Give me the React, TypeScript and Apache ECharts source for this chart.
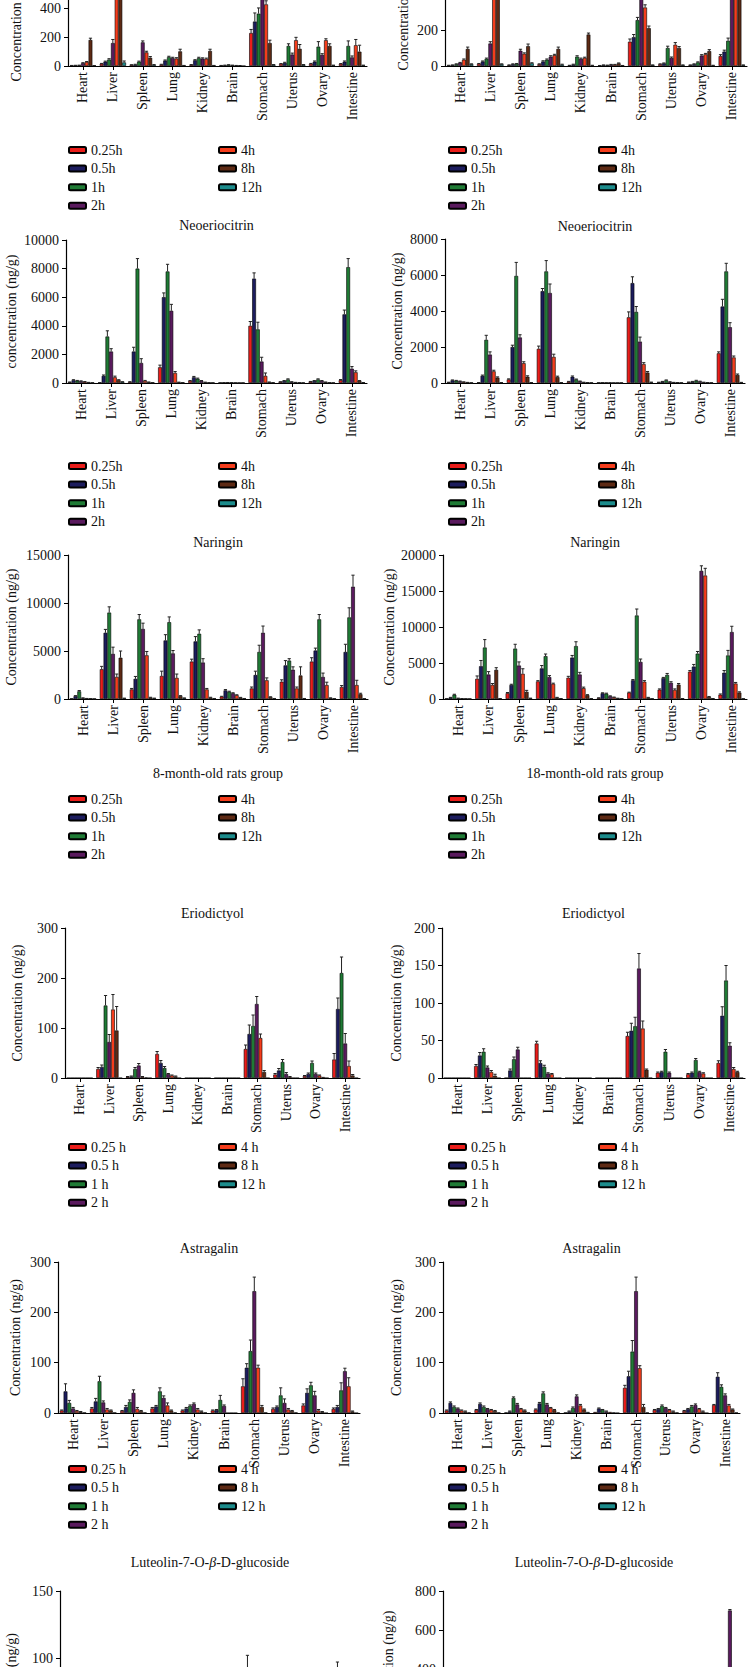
import React, { useEffect, useRef } from 'react';
import * as echarts from 'echarts';

const ORGANS = ['Heart', 'Liver', 'Spleen', 'Lung', 'Kidney', 'Brain', 'Stomach', 'Uterus', 'Ovary', 'Intestine'];
const TIMES = ['0.25h', '0.5h', '1h', '2h', '4h', '8h', '12h'];
const TIMES_SPACED = ['0.25 h', '0.5 h', '1 h', '2 h', '4 h', '8 h', '12 h'];
const COLORS = ['#ea1d1a', '#1c1c5e', '#1f7b35', '#5a1a5e', '#f53d1c', '#5e2a14', '#1c8c8c'];

const TITLES = ['', '', 'Neoeriocitrin', 'Neoeriocitrin', 'Naringin', 'Naringin', 'Eriodictyol', 'Eriodictyol', 'Astragalin', 'Astragalin', 'Luteolin-7-O-{i|β}-D-glucoside', 'Luteolin-7-O-{i|β}-D-glucoside'];
const Y_NAMES = ['Concentration (ng/g)', 'Concentration (ng/g)', 'concentration (ng/g)', 'Concentration (ng/g)', 'Concentration (ng/g)', 'Concentration (ng/g)', 'Concentration (ng/g)', 'Concentration (ng/g)', 'Concentration (ng/g)', 'Concentration (ng/g)', 'Concentration (ng/g)', 'Concentration (ng/g)'];
const Y_MAX = [600, 600, 10000, 8000, 15000, 20000, 300, 200, 300, 300, 150, 800];
const Y_STEP = [200, 200, 2000, 2000, 5000, 5000, 100, 50, 100, 100, 50, 200];
const GROUP_LABELS = ['8-month-old rats group', '18-month-old rats group'];

// rows: organs (Heart..Intestine), columns: 0.25h,0.5h,1h,2h,4h,8h,12h
const TOP_8M = [
  [3, 4, 5, 20, 28, 182, 2], [15, 30, 45, 160, 1000, 900, 25], [8, 10, 30, 165, 95, 58, 8], [10, 38, 62, 55, 52, 102, 3], [8, 40, 55, 52, 50, 105, 3],
  [3, 5, 8, 5, 3, 2, 1], [230, 310, 365, 470, 430, 160, 8], [15, 22, 140, 80, 180, 120, 8], [15, 30, 135, 78, 180, 140, 5], [15, 30, 140, 60, 145, 100, 5],
];
const TOP_8M_ERR = [
  [1, 1, 1, 3, 3, 12, 1], [3, 4, 6, 25, 0, 0, 10], [1, 2, 4, 10, 8, 8, 2], [2, 4, 6, 6, 6, 15, 1], [2, 4, 6, 5, 5, 12, 1],
  [1, 1, 1, 1, 1, 1, 0], [25, 60, 40, 30, 25, 20, 2], [2, 4, 15, 10, 20, 30, 2], [3, 5, 35, 8, 10, 15, 1], [2, 5, 35, 10, 40, 45, 1],
];
const TOP_18M = [
  [3, 5, 10, 18, 35, 95, 10], [12, 25, 40, 125, 800, 700, 10], [5, 10, 12, 85, 68, 110, 15], [10, 25, 35, 52, 60, 95, 8], [3, 8, 52, 40, 45, 175, 3],
  [2, 5, 4, 8, 8, 15, 2], [135, 160, 255, 420, 325, 210, 5], [10, 15, 100, 45, 118, 100, 5], [5, 10, 20, 58, 65, 83, 3], [55, 80, 140, 500, 520, 480, 5],
];
const TOP_18M_ERR = [
  [1, 1, 2, 2, 4, 10, 2], [2, 3, 4, 10, 0, 0, 2], [1, 2, 2, 8, 5, 12, 3], [2, 4, 4, 5, 5, 10, 2], [1, 2, 5, 4, 4, 8, 1],
  [1, 1, 1, 1, 1, 2, 1], [15, 15, 15, 0, 15, 12, 1], [2, 2, 10, 5, 12, 8, 1], [1, 2, 3, 5, 5, 8, 1], [8, 8, 15, 0, 0, 0, 1],
];
const NEO_8M = [
  [60, 200, 160, 130, 90, 40, 15], [20, 500, 3250, 2200, 400, 200, 80], [80, 2200, 8000, 1400, 150, 60, 20], [1100, 6000, 7800, 5050, 700, 50, 20], [150, 400, 300, 150, 50, 20, 10],
  [10, 20, 30, 20, 10, 5, 5], [4000, 7300, 3750, 1500, 500, 60, 20], [80, 150, 250, 80, 40, 20, 10], [100, 150, 250, 150, 60, 20, 10], [200, 4800, 8100, 1000, 750, 150, 30],
];
const NEO_8M_ERR = [
  [10, 30, 20, 20, 10, 5, 2], [5, 60, 400, 200, 80, 30, 10], [10, 300, 700, 300, 30, 10, 5], [150, 300, 500, 450, 100, 10, 5], [20, 60, 40, 20, 10, 5, 2],
  [2, 5, 5, 5, 2, 1, 1], [300, 400, 500, 300, 200, 10, 5], [10, 20, 40, 10, 5, 5, 2], [10, 20, 40, 20, 10, 5, 2], [40, 300, 600, 150, 100, 20, 5],
];
const NEO_18M = [
  [40, 150, 130, 100, 60, 30, 10], [20, 400, 2400, 1580, 650, 300, 20], [200, 2000, 5950, 2530, 1100, 350, 20], [1900, 5100, 6200, 5000, 1450, 330, 20], [80, 350, 200, 100, 40, 20, 10],
  [10, 15, 10, 10, 5, 5, 5], [3650, 5550, 3950, 2300, 1050, 580, 40], [40, 80, 150, 60, 30, 20, 10], [50, 80, 130, 90, 40, 20, 10], [1650, 4250, 6200, 3100, 1420, 450, 30],
];
const NEO_18M_ERR = [
  [5, 20, 15, 10, 5, 5, 2], [5, 40, 250, 150, 60, 40, 5], [30, 100, 750, 150, 80, 50, 5], [150, 150, 600, 500, 150, 50, 5], [10, 40, 20, 10, 5, 5, 2],
  [2, 2, 2, 2, 1, 1, 1], [300, 350, 300, 250, 80, 60, 10], [5, 10, 20, 10, 5, 5, 2], [5, 10, 20, 10, 5, 5, 2], [80, 400, 450, 250, 80, 50, 5],
];
const NAR_8M = [
  [20, 300, 800, 100, 50, 30, 10], [3100, 6900, 9000, 4700, 2300, 4300, 80], [1000, 2100, 8300, 7300, 4550, 150, 80], [2400, 6100, 8000, 4750, 2200, 300, 100], [3900, 6000, 6800, 3800, 1000, 150, 50],
  [250, 900, 750, 600, 400, 150, 50], [1100, 2500, 4900, 6900, 1950, 200, 50], [1800, 3500, 4000, 3050, 1100, 2450, 50], [3900, 5050, 8300, 2300, 1450, 100, 30], [1250, 4900, 8500, 11700, 1450, 500, 30],
];
const NAR_8M_ERR = [
  [5, 50, 80, 20, 10, 5, 2], [300, 350, 600, 700, 300, 700, 10], [100, 250, 500, 600, 400, 30, 10], [500, 600, 550, 300, 400, 50, 10], [250, 500, 400, 400, 100, 30, 5],
  [30, 80, 60, 50, 40, 20, 5], [150, 400, 700, 700, 250, 30, 5], [200, 500, 200, 300, 150, 900, 5], [400, 250, 500, 400, 300, 20, 5], [150, 800, 1000, 1200, 500, 100, 5],
];
const NAR_18M = [
  [30, 200, 600, 100, 50, 30, 10], [2800, 4550, 7150, 3400, 1950, 4050, 50], [800, 1950, 7000, 4650, 3500, 1000, 100], [2450, 4250, 5950, 3050, 2100, 200, 50], [2950, 5750, 7350, 3400, 1500, 550, 50],
  [150, 800, 750, 400, 250, 100, 30], [900, 2600, 11600, 5150, 2400, 200, 30], [1300, 2900, 3350, 2250, 1250, 2000, 50], [3800, 4500, 6300, 17800, 17150, 300, 50], [600, 3650, 6050, 9300, 2150, 900, 30],
];
const NAR_18M_ERR = [
  [5, 30, 60, 20, 10, 5, 2], [400, 800, 1100, 400, 200, 300, 10], [100, 100, 600, 500, 700, 200, 20], [100, 400, 300, 200, 100, 30, 10], [200, 300, 600, 300, 150, 50, 10],
  [20, 60, 60, 40, 20, 10, 5], [50, 100, 900, 400, 150, 30, 5], [100, 100, 200, 150, 150, 150, 10], [150, 300, 300, 700, 1000, 50, 10], [100, 300, 700, 800, 150, 100, 5],
];
const ERI_8M = [
  [0, 0, 0, 0, 0, 0, 0], [18, 22, 145, 72, 137, 95, 0], [2, 3, 18, 25, 2, 1, 0], [48, 30, 20, 8, 5, 3, 0], [0, 0, 0, 0, 0, 0, 0],
  [0, 0, 0, 0, 0, 0, 0], [58, 88, 104, 148, 80, 12, 0], [7, 15, 32, 8, 2, 0, 0], [4, 8, 30, 8, 5, 2, 0], [37, 138, 210, 69, 24, 5, 0],
];
const ERI_8M_ERR = [
  [0, 0, 0, 0, 0, 0, 0], [3, 4, 20, 15, 30, 48, 0], [1, 1, 3, 4, 1, 0, 0], [5, 5, 3, 1, 1, 1, 0], [0, 0, 0, 0, 0, 0, 0],
  [0, 0, 0, 0, 0, 0, 0], [8, 18, 22, 15, 8, 3, 0], [2, 4, 5, 3, 1, 0, 0], [1, 2, 4, 2, 1, 0, 0], [12, 22, 32, 20, 10, 2, 0],
];
const ERI_18M = [
  [0, 0, 0, 0, 0, 0, 0], [16, 30, 35, 14, 8, 3, 0], [0, 10, 25, 38, 0, 0, 0], [46, 20, 15, 6, 5, 0, 0], [0, 0, 0, 0, 0, 0, 0],
  [0, 0, 0, 0, 0, 0, 0], [56, 63, 69, 146, 66, 11, 0], [7, 8, 35, 7, 0, 0, 0], [5, 7, 24, 8, 6, 0, 0], [20, 83, 130, 43, 12, 8, 0],
];
const ERI_18M_ERR = [
  [0, 0, 0, 0, 0, 0, 0], [2, 4, 4, 2, 2, 2, 0], [0, 2, 3, 3, 0, 0, 0], [3, 3, 2, 1, 1, 0, 0], [0, 0, 0, 0, 0, 0, 0],
  [0, 0, 0, 0, 0, 0, 0], [5, 10, 12, 20, 10, 1, 0], [1, 1, 3, 1, 0, 0, 0], [1, 1, 2, 1, 1, 0, 0], [3, 12, 20, 4, 2, 1, 0],
];
const AST_8M = [
  [5, 43, 20, 9, 4, 2, 1], [9, 23, 63, 21, 7, 5, 1], [4, 12, 22, 40, 8, 4, 1], [9, 13, 43, 30, 15, 5, 1], [5, 9, 14, 18, 7, 3, 1],
  [5, 6, 26, 14, 0, 0, 0], [53, 90, 123, 242, 90, 12, 1], [8, 12, 35, 20, 7, 4, 1], [15, 40, 55, 35, 5, 2, 0], [8, 12, 45, 83, 53, 3, 0],
];
const AST_8M_ERR = [
  [1, 15, 5, 2, 1, 1, 0], [2, 6, 10, 3, 2, 1, 0], [1, 3, 4, 6, 3, 1, 0], [2, 2, 7, 4, 5, 1, 0], [1, 2, 2, 2, 2, 1, 0],
  [1, 1, 9, 2, 0, 0, 0], [15, 8, 22, 28, 5, 3, 0], [2, 2, 15, 8, 2, 1, 0], [3, 8, 6, 8, 2, 1, 0], [2, 3, 15, 6, 17, 1, 0],
];
const AST_18M = [
  [5, 20, 12, 9, 5, 3, 1], [6, 18, 12, 8, 6, 4, 1], [1, 3, 30, 17, 8, 5, 1], [7, 19, 39, 17, 10, 6, 1], [1, 3, 10, 33, 15, 7, 2],
  [2, 9, 6, 3, 2, 1, 0], [50, 73, 122, 242, 89, 12, 1], [6, 8, 14, 10, 6, 3, 1], [4, 8, 13, 16, 8, 3, 0], [16, 72, 52, 35, 15, 7, 1],
];
const AST_18M_ERR = [
  [1, 2, 2, 1, 1, 1, 0], [1, 2, 2, 1, 1, 1, 0], [0, 1, 2, 2, 1, 1, 0], [1, 2, 3, 2, 1, 1, 0], [0, 1, 2, 3, 2, 1, 0],
  [0, 1, 1, 1, 0, 0, 0], [5, 10, 22, 28, 5, 5, 0], [1, 1, 2, 1, 1, 1, 0], [1, 1, 2, 2, 1, 1, 0], [1, 8, 4, 3, 2, 1, 0],
];
const LUT_8M = [
  [10, 20, 30, 25, 15, 10, 5], [15, 25, 40, 30, 20, 10, 5], [10, 20, 30, 25, 15, 10, 5], [15, 25, 35, 30, 20, 10, 5], [10, 15, 25, 20, 15, 10, 5],
  [5, 10, 15, 10, 5, 5, 2], [30, 90, 60, 50, 30, 15, 5], [10, 20, 30, 25, 15, 10, 5], [10, 20, 30, 25, 15, 10, 5], [20, 85, 60, 40, 25, 15, 5],
];
const LUT_8M_ERR = [
  [2, 3, 4, 3, 2, 1, 1], [2, 3, 5, 4, 3, 1, 1], [2, 3, 4, 3, 2, 1, 1], [2, 3, 4, 4, 3, 1, 1], [2, 2, 3, 3, 2, 1, 1],
  [1, 1, 2, 1, 1, 1, 0], [5, 12, 8, 6, 4, 2, 1], [2, 3, 4, 3, 2, 1, 1], [2, 3, 4, 3, 2, 1, 1], [3, 12, 8, 5, 3, 2, 1],
];
const LUT_18M = [
  [20, 40, 60, 50, 30, 20, 10], [30, 60, 90, 70, 40, 20, 10], [20, 40, 60, 50, 30, 20, 10], [30, 50, 80, 60, 40, 20, 10], [20, 30, 50, 40, 30, 20, 10],
  [10, 20, 30, 20, 10, 10, 5], [100, 200, 300, 250, 150, 50, 10], [20, 40, 60, 50, 30, 20, 10], [20, 40, 60, 50, 30, 20, 10], [50, 200, 300, 700, 200, 100, 20],
];
const LUT_18M_ERR = [
  [3, 5, 8, 6, 4, 3, 1], [4, 8, 10, 8, 5, 3, 1], [3, 5, 8, 6, 4, 3, 1], [4, 6, 10, 8, 5, 3, 1], [3, 4, 6, 5, 4, 3, 1],
  [1, 3, 4, 3, 1, 1, 1], [10, 20, 30, 25, 15, 5, 2], [3, 5, 8, 6, 4, 3, 1], [3, 5, 8, 6, 4, 3, 1], [10, 20, 30, 5, 20, 10, 5],
];

const VALUES = [TOP_8M, TOP_18M, NEO_8M, NEO_18M, NAR_8M, NAR_18M, ERI_8M, ERI_18M, AST_8M, AST_18M, LUT_8M, LUT_18M];
const ERRORS = [TOP_8M_ERR, TOP_18M_ERR, NEO_8M_ERR, NEO_18M_ERR, NAR_8M_ERR, NAR_18M_ERR, ERI_8M_ERR, ERI_18M_ERR, AST_8M_ERR, AST_18M_ERR, LUT_8M_ERR, LUT_18M_ERR];

// layout: [plotLeft, plotRight, plotTop, baseline, nameGap, titleY]
const LAYOUT = [
  [68, 367, -20, 66, 45, 0],
  [445, 747, -42, 66, 35, 0],
  [66, 367, 240, 383, 48, 225],
  [445, 745, 239, 383, 41, 226],
  [68, 368, 555, 699, 50, 542],
  [443, 747, 555, 699, 47, 542],
  [65, 360, 928, 1078, 41, 913],
  [442, 745, 928, 1078, 39, 913],
  [58, 360, 1262, 1413, 36, 1248],
  [443, 740, 1262, 1413, 40, 1248],
  [60, 360, 1591, 1792, 42, 1562],
  [443, 745, 1591, 1747, 48, 1562],
];
const LEGEND_Y = [150, 466, 799, 1147, 1469];
const LEGEND_X = [68, 218, 448, 598];

const FONT = '"Liberation Serif", "Times New Roman", serif';
const BAR_GAP_FRAC = 0.12;

export default function App() {
  const ref = useRef<HTMLDivElement>(null);

  useEffect(() => {
    if (!ref.current) return;
    const chart = echarts.init(ref.current, undefined, { renderer: 'svg' });

    const grid: any[] = [];
    const xAxis: any[] = [];
    const yAxis: any[] = [];
    const series: any[] = [];
    const graphic: any[] = [];
    const legend: any[] = [];

    LAYOUT.forEach((L, p) => {
      const [x0, x1, top, base, nameGap, titleY] = L;
      grid.push({
        left: x0, top: top, width: x1 - x0, height: base - top,
        containLabel: false, outerBoundsMode: 'none',
      });
      xAxis.push({
        type: 'category', gridIndex: p, data: ORGANS,
        axisLine: { show: true, lineStyle: { color: '#000', width: 1.2 } },
        axisTick: { show: true, alignWithLabel: true, length: 4, lineStyle: { color: '#000' } },
        axisLabel: { rotate: 90, interval: 0, margin: 6, fontFamily: FONT, fontSize: 14, color: '#111' },
        splitLine: { show: false },
      });
      yAxis.push({
        type: 'value', gridIndex: p, min: 0, max: Y_MAX[p], interval: Y_STEP[p],
        axisLine: { show: true, lineStyle: { color: '#000', width: 1.2 } },
        axisTick: { show: true, length: 4, lineStyle: { color: '#000' } },
        splitLine: { show: false },
        axisLabel: { margin: 7, fontFamily: FONT, fontSize: 14, color: '#111', formatter: (v: number) => String(v) },
        name: Y_NAMES[p], nameLocation: 'middle', nameGap: nameGap,
        nameTextStyle: { fontFamily: FONT, fontSize: 14, color: '#111' },
      });
      const names = p >= 6 ? TIMES_SPACED : TIMES;
      const vals = VALUES[p];
      const errs = ERRORS[p];
      names.forEach((nm, t) => {
        series.push({
          type: 'bar', name: nm, xAxisIndex: p, yAxisIndex: p,
          data: vals.map((row) => row[t]),
          barGap: '0%', barCategoryGap: (BAR_GAP_FRAC * 100) + '%',
          itemStyle: { color: COLORS[t], borderColor: '#000', borderWidth: 0.6 },
          z: 2,
        });
      });
      const errData: number[][] = [];
      vals.forEach((row, c) => row.forEach((v, t) => errData.push([c, t, v, errs[c][t]])));
      series.push({
        type: 'custom', name: 'err' + p, xAxisIndex: p, yAxisIndex: p,
        data: errData, encode: { x: 0, y: 2 }, z: 5, silent: true,
        renderItem: (params: any, api: any) => {
          const c = api.value(0), t = api.value(1), v = api.value(2), e = api.value(3);
          if (!e || e <= 0) return null;
          const bw = (api.size([1, 0])[0] * (1 - BAR_GAP_FRAC)) / 7;
          const p0 = api.coord([c, v]);
          const p1 = api.coord([c, v + e]);
          const x = p0[0] + (t - 3) * bw;
          return {
            type: 'group',
            children: [
              { type: 'line', shape: { x1: x, y1: p0[1], x2: x, y2: p1[1] }, style: { stroke: '#222', lineWidth: 1 } },
              { type: 'line', shape: { x1: x - 1.6, y1: p1[1], x2: x + 1.6, y2: p1[1] }, style: { stroke: '#222', lineWidth: 1 } },
            ],
          };
        },
      });
      if (TITLES[p]) {
        graphic.push({
          type: 'text', x: (x0 + x1) / 2, y: titleY,
          style: {
            text: TITLES[p], fontFamily: FONT, fontSize: 14, fill: '#111',
            align: 'center', verticalAlign: 'middle',
            rich: { i: { fontStyle: 'italic', fontFamily: FONT, fontSize: 14, fill: '#111' } },
          },
        });
      }
    });

    [0, 1].forEach((s) => {
      const L = LAYOUT[4 + s];
      graphic.push({
        type: 'text', x: (L[0] + L[1]) / 2, y: 773,
        style: { text: GROUP_LABELS[s], fontFamily: FONT, fontSize: 14, fill: '#111', align: 'center', verticalAlign: 'middle' },
      });
    });

    LEGEND_Y.forEach((ly, r) => {
      const names = r >= 3 ? TIMES_SPACED : TIMES;
      [0, 1].forEach((side) => {
        [names.slice(0, 4), names.slice(4)].forEach((subset, col) => {
          legend.push({
            orient: 'vertical', left: LEGEND_X[side * 2 + col], top: ly - 7,
            data: subset, itemWidth: 17, itemHeight: 6, itemGap: 4.6, itemTextGap: 6,
            padding: 0, selectedMode: false,
            textStyle: { fontFamily: FONT, fontSize: 14, color: '#111' },
          });
        });
      });
    });

    chart.setOption({
      animation: false,
      backgroundColor: '#fff',
      grid, xAxis, yAxis, series, legend, graphic,
    });

    return () => chart.dispose();
  }, []);

  return (
    <div
      ref={ref}
      style={{ position: 'absolute', left: 0, top: 0, width: 749, height: 1667, background: '#fff' }}
    />
  );
}
